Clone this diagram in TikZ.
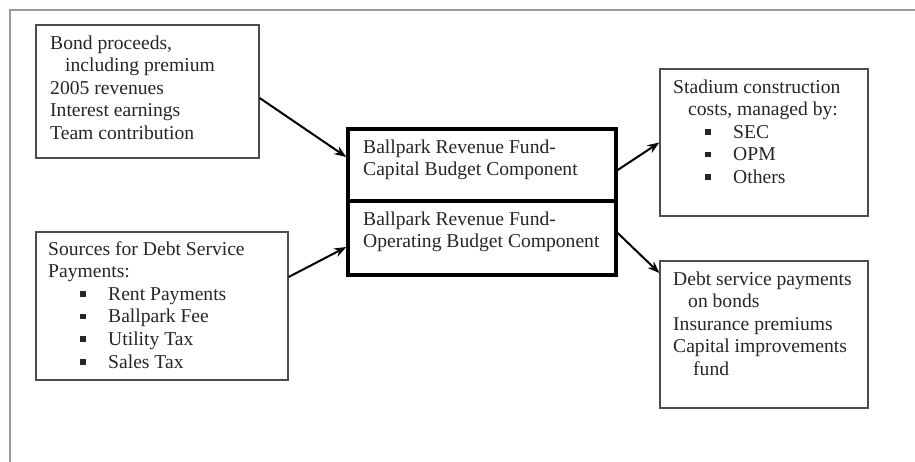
\documentclass[tikz,border=0pt]{standalone}
\usepackage{fontspec}
\setmainfont{Liberation Serif}
\usetikzlibrary{arrows.meta}
\newcommand{\bitem}[1]{\hbox{\hspace*{32pt}\rule[3.5pt]{5.5pt}{5.5pt}\hspace{22.5pt}#1}}
\newcommand{\tline}[1]{\hbox{#1}}
\tikzset{
  txt/.style={anchor=base west, inner sep=0pt, font=\fontsize{19.6}{22.6}\selectfont, text=black!85},
  plainbox/.style={draw=black!70, line width=1.3pt, inner sep=0pt},
  fundbox/.style={draw=black, line width=3.4pt, inner sep=0pt},
  arr/.style={-{Stealth[length=12pt,width=9pt]}, line width=2pt, black},
  frame/.style={draw=black!40, line width=1.8pt}
}
\begin{document}
\begin{tikzpicture}[x=1pt,y=-1pt]
\useasboundingbox (0,0) rectangle (915,461);
% outer frame (partly visible)
\coordinate (fbl) at (10,462);
\coordinate (ftl) at (10,10);
\coordinate (ftr) at (916,10);
\draw[frame] (fbl) -- (ftl) -- (ftr);
% boxes
\node[plainbox, minimum width=223pt, minimum height=133pt] (b1) at (147.5,91.5) {};
\node[plainbox, minimum width=252pt, minimum height=148pt] (b2) at (162,306) {};
\node[plainbox, minimum width=208pt, minimum height=147pt] (b3) at (764,142.5) {};
\node[plainbox, minimum width=208pt, minimum height=147pt] (b4) at (764,334.5) {};
\node[fundbox, minimum width=268pt, minimum height=72pt] (c1) at (482,165) {};
\node[fundbox, minimum width=268pt, minimum height=74pt] (c2) at (482,238) {};
% texts
\node[txt] (t1) at (50,49) {\vtop{\baselineskip=22.6pt
  \tline{Bond proceeds,}
  \tline{\hspace*{15pt}including premium}
  \tline{2005 revenues}
  \tline{Interest earnings}
  \tline{Team contribution}}};
\node[txt] (t2) at (48,255) {\vtop{\baselineskip=22.6pt
  \tline{Sources for Debt Service}
  \tline{Payments:}
  \bitem{Rent Payments}
  \bitem{Ballpark Fee}
  \bitem{Utility Tax}
  \bitem{Sales Tax}}};
\node[txt] (t3) at (363,153) {\vtop{\baselineskip=22.6pt
  \tline{Ballpark Revenue Fund-}
  \tline{Capital Budget Component}}};
\node[txt] (t4) at (363,225) {\vtop{\baselineskip=22.6pt
  \tline{Ballpark Revenue Fund-}
  \tline{Operating Budget Component}}};
\node[txt] (t5) at (673,93) {\vtop{\baselineskip=22.6pt
  \tline{Stadium construction}
  \tline{\hspace*{15pt}costs, managed by:}
  \bitem{SEC}
  \bitem{OPM}
  \bitem{Others}}};
\node[txt] (t6) at (673,285) {\vtop{\baselineskip=22.6pt
  \tline{Debt service payments}
  \tline{\hspace*{15pt}on bonds}
  \tline{Insurance premiums}
  \tline{Capital improvements}
  \tline{\hspace*{20pt}fund}}};
% connectors
\draw[arr] ([yshift=-6.5pt]b1.east) -- ([yshift=8pt]c1.west);
\draw[arr] ([yshift=29pt]b2.east) -- ([yshift=-9pt]c2.west);
\draw[arr] ([yshift=-5pt]c1.east) -- (b3.west);
\draw[arr] ([yshift=5pt]c2.east) -- ([yshift=61.5pt]b4.west);
\end{tikzpicture}
\end{document}
